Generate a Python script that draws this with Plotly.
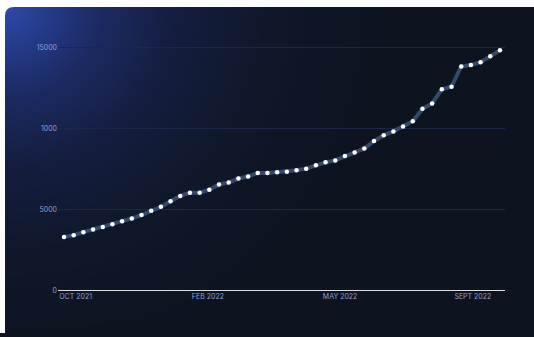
import numpy as np
import plotly.graph_objects as go

# Weekly running totals, Oct 2021 - Sept 2022
week_index = list(range(46))
totals = [
    3310, 3415, 3600, 3760, 3920, 4085, 4270, 4450, 4655, 4920,
    5165, 5505, 5835, 6035, 6035, 6220, 6545, 6665, 6910, 7030,
    7255, 7255, 7300, 7335, 7420, 7520, 7725, 7910, 8030, 8295,
    8520, 8765, 9225, 9575, 9820, 10120, 10445, 11220, 11545, 12420,
    12580, 13825, 13920, 14085, 14450, 14820,
]

x_tick_pos = [1.2, 14.85, 28.5, 42.2]
x_tick_text = ["OCT 2021", "FEB 2022", "MAY 2022", "SEPT 2022"]
y_tick_vals = [0, 5000, 10000, 15000]
y_tick_text = ["0", "5000", "1000", "15000"]

W, H = 534, 337
CARD_X0, CARD_Y0 = 5, 7
DARK = "#0d1420"

# Card background: radial glow from the top-left corner.
ex = np.linspace(0, W, 90)
ey = np.linspace(0, H, 58)
cx = (ex[:-1] + ex[1:]) / 2
cy = (ey[:-1] + ey[1:]) / 2
XX, YY = np.meshgrid(np.maximum(cx - CARD_X0, 0), np.maximum(cy - CARD_Y0, 0))
dist = np.sqrt(XX ** 2 + (YY * 1.05) ** 2)
glow = np.clip(dist / 380.0, 0, 1)

bg_scale = [
    [0.0, "#2e4aa8"],
    [0.12, "#243a88"],
    [0.25, "#1c2a62"],
    [0.45, "#141d3e"],
    [0.7, "#0f1729"],
    [1.0, DARK],
]

fig = go.Figure()

fig.add_trace(go.Heatmap(
    x=ex, y=ey, z=glow, colorscale=bg_scale, zmin=0, zmax=1,
    zsmooth="best", showscale=False, hoverinfo="skip",
    xaxis="x", yaxis="y",
))

fig.add_trace(go.Scatter(
    x=week_index, y=totals, mode="lines+markers",
    line=dict(color="#34496a", width=4),
    marker=dict(color="#ffffff", size=4.5, line=dict(width=0)),
    xaxis="x2", yaxis="y2", hoverinfo="skip", cliponaxis=False,
))

tick_font = dict(family="Inter, Liberation Sans, sans-serif", size=7, color="#8e9fd2")

white_edge = dict(fillcolor="#ffffff", line=dict(width=0), layer="above",
                  xref="paper", yref="paper")
dark_edge = dict(fillcolor=DARK, line=dict(width=0), layer="above",
                 xref="paper", yref="paper")


def px_x(v):
    return v / W


def px_y(v):
    return 1 - v / H


fig.update_layout(
    width=W, height=H,
    autosize=False,
    margin=dict(l=0, r=0, t=0, b=0, pad=0),
    paper_bgcolor=DARK,
    plot_bgcolor="rgba(0,0,0,0)",
    showlegend=False,
    xaxis=dict(domain=[0, 1], range=[0, W], visible=False, fixedrange=True),
    yaxis=dict(domain=[0, 1], range=[H, 0], visible=False, fixedrange=True),
    xaxis2=dict(
        domain=[58 / W, 505 / W], range=[-0.62, 45.52], anchor="y2",
        tickvals=x_tick_pos, ticktext=x_tick_text, tickfont=tick_font,
        showgrid=False, zeroline=False, showline=False, ticks="",
    ),
    yaxis2=dict(
        domain=[1 - 294 / H, 1 - 40 / H], range=[0, 15488], anchor="x2",
        tickvals=y_tick_vals, ticktext=y_tick_text, tickfont=tick_font,
        showgrid=True, gridcolor="#1d2849", gridwidth=1,
        zeroline=True, zerolinecolor="#d9dce3", zerolinewidth=1.2,
        showline=False, ticks="",
    ),
    shapes=[
        # card body along the bottom and right edges of the page
        dict(type="rect", x0=px_x(CARD_X0), x1=1, y0=0, y1=px_y(H - 6), **dark_edge),
        dict(type="rect", x0=px_x(W - 6), x1=1, y0=0, y1=px_y(200), **dark_edge),
        # page margin above and left of the card
        dict(type="rect", x0=0, x1=1, y0=px_y(CARD_Y0), y1=1, **white_edge),
        dict(type="rect", x0=0, x1=px_x(CARD_X0), y0=0, y1=1, **white_edge),
        # rounded top-left corner of the card
        dict(type="path",
             path=f"M {px_x(CARD_X0 - 0.5)},{px_y(CARD_Y0 - 0.5)} "
                  f"L {px_x(CARD_X0 + 9)},{px_y(CARD_Y0 - 0.5)} "
                  f"L {px_x(CARD_X0 + 9)},{px_y(CARD_Y0)} "
                  f"Q {px_x(CARD_X0)},{px_y(CARD_Y0)} {px_x(CARD_X0)},{px_y(CARD_Y0 + 9)} "
                  f"L {px_x(CARD_X0 - 0.5)},{px_y(CARD_Y0 + 9)} Z",
             **white_edge),
    ],
)

# Keep the page itself flush with the figure: no scrollbars, card colour behind it
page_style = (
    "document.documentElement.style.overflow='hidden';"
    "document.body.style.overflow='hidden';"
    "document.body.style.margin='0';"
    f"document.body.style.background='{DARK}';"
)

fig.write_html(
    "out.html",
    config={"responsive": False, "displayModeBar": False},
    post_script=page_style,
)
